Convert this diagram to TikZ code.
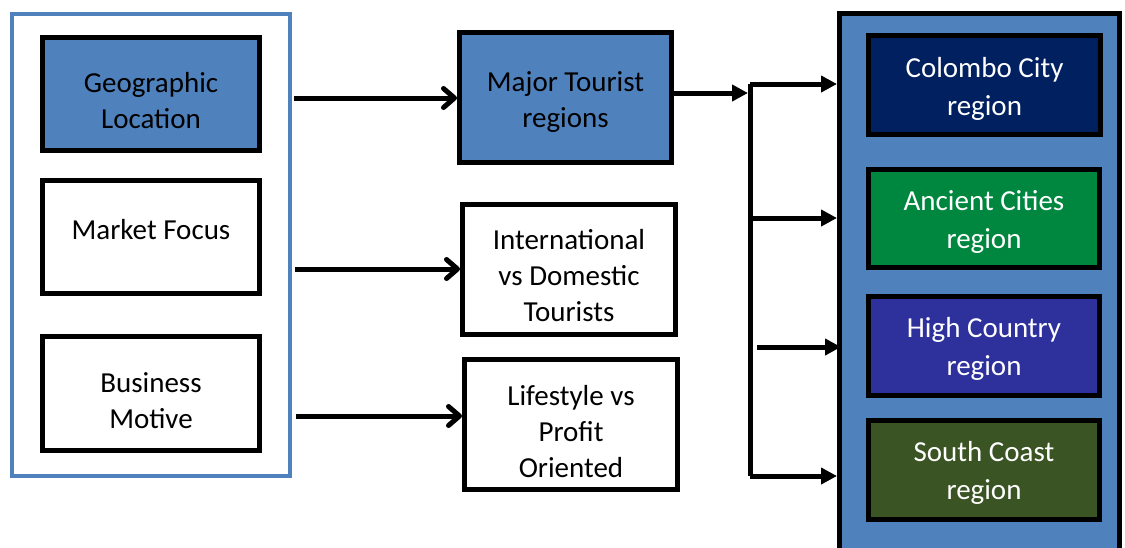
\documentclass[tikz,border=0pt]{standalone}
\usepackage{fontspec}
\setmainfont{Carlito}
\usetikzlibrary{arrows.meta}
\definecolor{steel}{HTML}{4F81BD}
\definecolor{navy}{HTML}{002060}
\definecolor{leaf}{HTML}{00873F}
\definecolor{indigo}{HTML}{2E309C}
\definecolor{olive}{HTML}{3A5424}
\tikzset{
  box/.style={draw=black, line width=5pt, inner sep=0pt},
  % box text, placed at the centre and nudged down by a given amount
  txt/.style 2 args={label={[font=\fontsize{29}{36}\selectfont, align=center,
    text=black, inner sep=0pt, yshift=-#1]center:#2}},
  wtxt/.style 2 args={label={[font=\fontsize{29}{38}\selectfont, align=center,
    text=white, inner sep=0pt, yshift=-#1]center:#2}},
  barb/.style={line width=5pt, -{Straight Barb[round, length=11pt, width=19pt]}},
  feed/.style={line width=5pt, -{Triangle[length=16pt, width=16pt]}},
}
\begin{document}
\begin{tikzpicture}[x=1pt, y=-1pt]
\useasboundingbox (0,0) rectangle (1125,547);
\clip (0,0) rectangle (1125,547);

% dimensions on the left
\node[draw=steel, line width=4pt, minimum width=278pt, minimum height=462pt] (frame) at (151,245) {};
\node[box, fill=steel, minimum width=217pt, minimum height=113pt,
  txt={6.5pt}{Geographic\\Location}] (geo) at (151,94) {};
\node[box, fill=white, minimum width=217pt, minimum height=113pt,
  txt={-7pt}{Market Focus}] (market) at (151,237) {};
\node[box, fill=white, minimum width=217pt, minimum height=114pt,
  txt={7pt}{Business\\Motive}] (motive) at (151,393.5) {};

% middle column
\node[box, fill=steel, minimum width=212pt, minimum height=130pt,
  txt={4.5pt}{Major Tourist\\regions}] (major) at (565.5,97.5) {};
\node[box, fill=white, minimum width=213pt, minimum height=130pt,
  txt={6.5pt}{International\\vs Domestic\\Tourists}] (intl) at (569,269.5) {};
\node[box, fill=white, minimum width=213pt, minimum height=130pt,
  txt={7.5pt}{Lifestyle vs\\Profit\\Oriented}] (life) at (571,424.5) {};

% regions on the right
\node[draw=black, fill=steel, line width=5pt, minimum width=280pt, minimum height=546.5pt] (regions) at (979.5,286.75) {};
\node[box, fill=navy, minimum width=232pt, minimum height=99pt,
  wtxt={4pt}{Colombo City\\region}] (colombo) at (984.5,85) {};
\node[box, fill=leaf, minimum width=231pt, minimum height=98pt,
  wtxt={3pt}{Ancient Cities\\region}] (ancient) at (984,218.5) {};
\node[box, fill=indigo, minimum width=231pt, minimum height=99pt,
  wtxt={2.5pt}{High Country\\region}] (high) at (984,346) {};
\node[box, fill=olive, minimum width=231pt, minimum height=99pt,
  wtxt={3pt}{South Coast\\region}] (south) at (984,470) {};

% connectors from the dimensions
\coordinate (g0) at (294,98);
\coordinate (m0) at (295,269);
\coordinate (b0) at (296,416);
\draw[barb] (g0) -- (major.west |- g0);
\draw[barb] (m0) -- (intl.west |- m0);
\draw[barb] (b0) -- (life.west |- b0);

% branching bracket to the regions
\coordinate (split) at (748,93);
\coordinate (t1) at (750,84);
\coordinate (t2) at (750,218);
\coordinate (t3) at (757,347);
\coordinate (t4) at (750,476);
\draw[feed] (major.east |- split) -- (split);
\draw[line width=5pt] (t1) -- (t4);
\draw[feed] (t1) -- (regions.west |- t1);
\draw[feed] (t2) -- (regions.west |- t2);
\draw[feed] (t3) -- ([xshift=4pt]regions.west |- t3);
\draw[feed] (t4) -- (regions.west |- t4);
\end{tikzpicture}
\end{document}
